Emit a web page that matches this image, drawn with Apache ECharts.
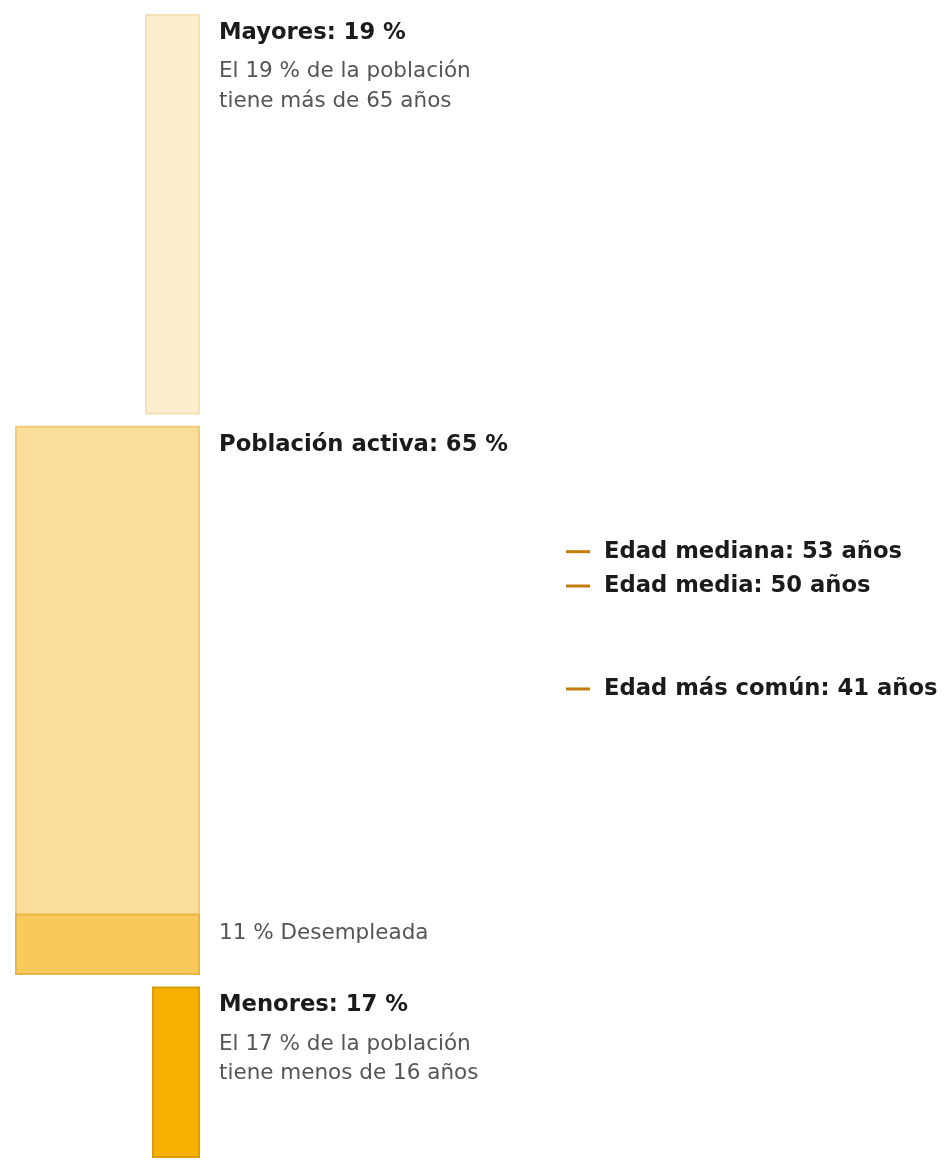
<!DOCTYPE html>
<html>
<head>
<meta charset="utf-8">
<script src="https://cdn.jsdelivr.net/npm/echarts@6/dist/echarts.min.js"></script>
<style>
  html, body { margin: 0; padding: 0; background: #fff; }
  #chart { width: 948px; height: 1168px; }
</style>
</head>
<body>
<div id="chart"></div>
<script>
// tramos de edad (de abajo arriba)
const grupos = ['Menores', 'Población activa', 'Mayores']
const porcentajes = [17, 65, 19]
const edadDesde = [0, 16, 65]
const edadHasta = [15, 64, 100]
// anchura relativa de cada barra
const anchuras = [48, 185, 55]
const subtitulos = [
  'El 17 % de la población\ntiene menos de 16 años',
  '',
  'El 19 % de la población\ntiene más de 65 años'
]
const colores = ['#f6b100', '#fbde9a', '#fdefcd']
const bordes = ['#d99b08', '#f0cb7c', '#f4e0b4']
// parte desempleada de la población activa
const desempleo = 11
const colorDesempleo = '#f8ca5b'
const bordeDesempleo = '#e7b544'

// marcadores de edad
const marcadores = ['Edad mediana', 'Edad media', 'Edad más común']
const edadesMarcadores = [53, 50, 41]

const FONT = '"DejaVu Sans", sans-serif'
const BOLD = 'bold 22.7px ' + FONT
const NORMAL = '21.5px ' + FONT
const chart = echarts.init(document.getElementById('chart'))

function renderBarra(params, api) {
  const i = api.value(3)
  const arriba = api.coord([api.value(0), api.value(2)])
  const abajo = api.coord([0, api.value(1)])
  const x = arriba[0]
  const y = arriba[1]
  const w = abajo[0] - arriba[0]
  const h = abajo[1] - arriba[1]
  const children = [
    {
      type: 'rect',
      shape: { x: x + 1, y: y + 1, width: w - 2, height: h - 2 },
      style: { fill: colores[i], stroke: bordes[i], lineWidth: 2 }
    },
    {
      type: 'text',
      x: abajo[0] + 19,
      y: y + 19,
      style: {
        text: grupos[i] + ': ' + porcentajes[i] + ' %',
        fill: '#1b1b1b',
        font: BOLD,
        verticalAlign: 'middle'
      }
    }
  ]
  if (subtitulos[i]) {
    children.push({
      type: 'text',
      x: abajo[0] + 19,
      y: y + 43,
      style: {
        text: subtitulos[i],
        fill: '#555',
        font: NORMAL,
        lineHeight: 29.5,
        verticalAlign: 'top'
      }
    })
  }
  if (i === 1) {
    // franja de desempleo, proporcional a la altura de la barra
    const edadCorte = api.value(1) + (api.value(2) - api.value(1)) * desempleo / 100
    const corte = api.coord([0, edadCorte])
    children.push({
      type: 'rect',
      shape: { x: x + 1, y: corte[1], width: w - 2, height: abajo[1] - corte[1] - 1 },
      style: { fill: colorDesempleo, stroke: bordeDesempleo, lineWidth: 2 }
    })
    children.push({
      type: 'text',
      x: abajo[0] + 19,
      y: corte[1] + 19,
      style: {
        text: desempleo + ' % Desempleada',
        fill: '#555',
        font: NORMAL,
        verticalAlign: 'middle'
      }
    })
  }
  return { type: 'group', children }
}

function renderMarcador(params, api) {
  const p = api.coord([0, api.value(1)])
  const i = params.dataIndex
  return {
    type: 'group',
    children: [
      {
        type: 'line',
        shape: { x1: p[0], y1: p[1], x2: p[0] + 24, y2: p[1] },
        style: { stroke: '#c47d0a', lineWidth: 3 }
      },
      {
        type: 'text',
        x: p[0] + 38,
        y: p[1],
        style: {
          text: marcadores[i] + ': ' + edadesMarcadores[i] + ' años',
          fill: '#1b1b1b',
          font: BOLD,
          verticalAlign: 'middle'
        }
      }
    ]
  }
}

const option = {
  animation: false,
  backgroundColor: '#fff',
  grid: [
    { left: 0, top: 14, width: 200, bottom: 10 },
    { left: 566, top: 14, width: 380, bottom: 10 }
  ],
  xAxis: [
    { gridIndex: 0, type: 'value', inverse: true, min: 0, max: 200, show: false },
    { gridIndex: 1, type: 'value', min: 0, max: 1, show: false }
  ],
  yAxis: [
    { gridIndex: 0, type: 'value', min: 0, max: 100, show: false },
    { gridIndex: 1, type: 'value', min: 0, max: 100, show: false }
  ],
  series: [
    {
      type: 'custom',
      xAxisIndex: 0,
      yAxisIndex: 0,
      renderItem: renderBarra,
      encode: { x: 0, y: [1, 2] },
      data: grupos.map((g, i) => [anchuras[i], edadDesde[i], edadHasta[i], i])
    },
    {
      type: 'custom',
      xAxisIndex: 1,
      yAxisIndex: 1,
      renderItem: renderMarcador,
      encode: { x: 0, y: 1 },
      data: edadesMarcadores.map(e => [0, e])
    }
  ]
}
chart.setOption(option)
</script>
</body>
</html>
